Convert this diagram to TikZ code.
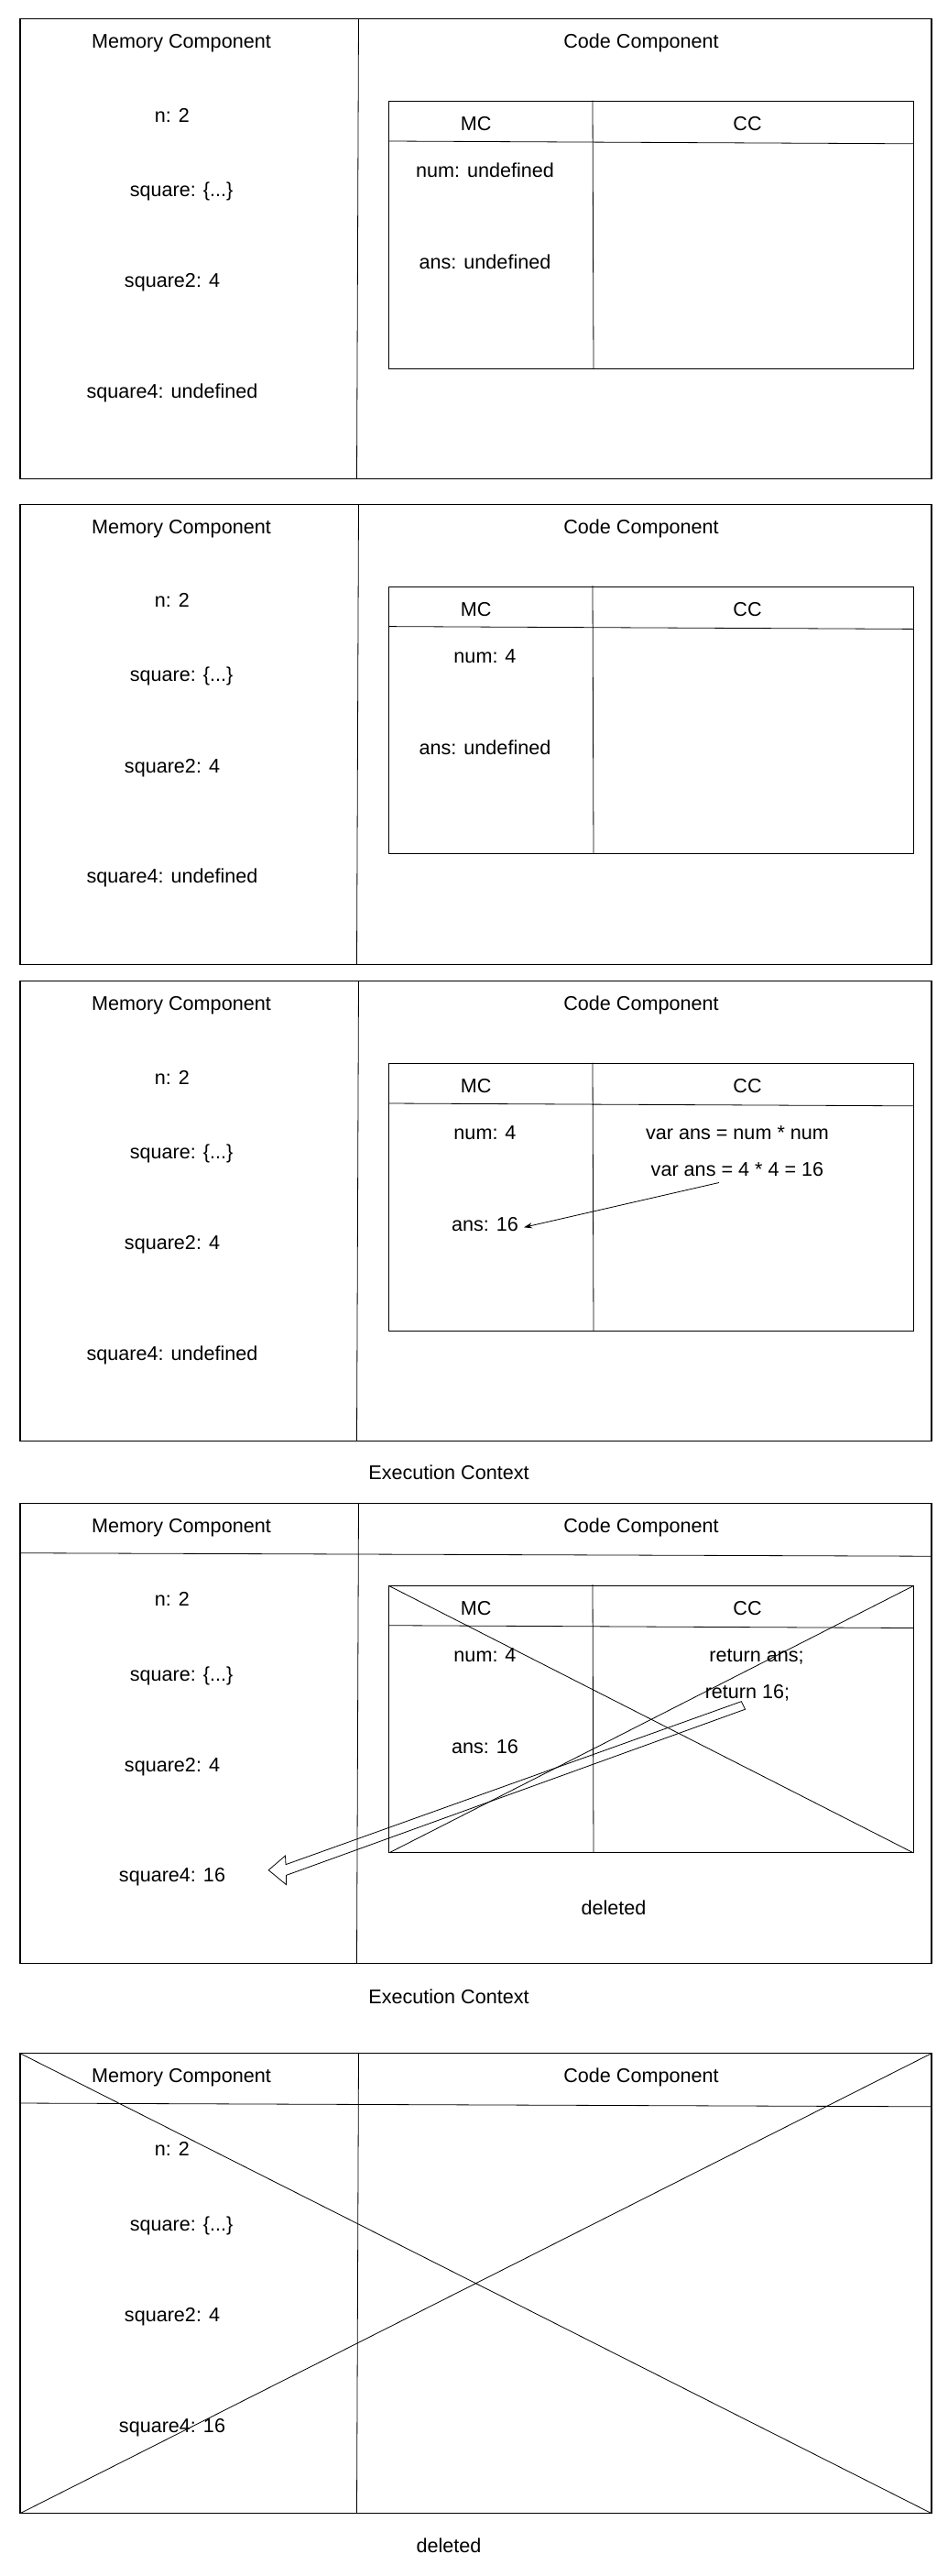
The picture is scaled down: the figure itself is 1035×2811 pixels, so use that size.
\documentclass[tikz,border=0pt]{standalone}
\usepackage{fontspec}
\setmainfont{Liberation Sans}
\usetikzlibrary{arrows.meta}
\tikzset{
  lbl/.style={font=\fontsize{21.6}{26}\selectfont, inner sep=0pt, text height=15.5pt, text depth=0pt, anchor=center},
  frame/.style={draw=black, line width=1.1pt},
  thinline/.style={draw=black, line width=0.8pt},
}
% outer frame with memory component column
\newcommand\ecframe[6]{% prefix, y-offset, n, square, square2, square4
  \begin{scope}[shift={(0,#2)}]
    \draw[frame] (22,20.8) rectangle (1017,522.7);
    \draw[thinline] (391.5,20.8) -- (389.5,522.7);
    \node[lbl] (#1mem) at (198,45) {Memory Component};
    \node[lbl] (#1code) at (700,45) {Code Component};
    \node[lbl] (#1n) at (188,125.3) {#3};
    \node[lbl] (#1sq) at (198,206.6) {#4};
    \node[lbl] (#1sqb) at (188,306) {#5};
    \node[lbl] (#1sqd) at (188,426.4) {#6};
  \end{scope}}
% inner table
\newcommand\ectable[4]{% prefix, y-offset, num text, ans text
  \begin{scope}[shift={(0,#2)}]
    \draw[frame] (424.7,110.8) rectangle (997.3,402.2);
    \draw[thinline] (424.7,154) -- (997.3,156.8);
    \draw[thinline] (647,109.5) -- (648,402.2);
    \node[lbl] (#1mc) at (519.6,135) {MC};
    \node[lbl] (#1cc) at (816,135) {CC};
    \node[lbl] (#1num) at (529.5,186) {#3};
    \node[lbl] (#1ans) at (529.5,286) {#4};
  \end{scope}}
\begin{document}
\begin{tikzpicture}[x=1pt,y=-1pt]
\useasboundingbox[fill=white] (0,0) rectangle (1035,2811);

% ---- box 1
\ecframe{a}{0}{n: 2}{square: \{...\}}{square2: 4}{square4: undefined}
\ectable{a}{0}{num: undefined}{ans: undefined}

% ---- box 2
\ecframe{b}{529.6}{n: 2}{square: \{...\}}{square2: 4}{square4: undefined}
\ectable{b}{529.6}{num: 4}{ans: undefined}

% ---- box 3
\ecframe{c}{1050}{n: 2}{square: \{...\}}{square2: 4}{square4: undefined}
\ectable{c}{1050}{num: 4}{ans: 16}
\node[lbl] (cvar1) at (805,1236) {var ans = num * num};
\node[lbl] (cvar2) at (805,1275.4) {var ans = 4 * 4 = 16};
\coordinate (cstart) at (785,1290.5);
\coordinate (cend) at (572,1339.3);
\draw[thinline, -{Stealth[length=9pt,width=6pt]}] (cstart) -- (cend);
\node[lbl] (ctitle) at (490,1607) {Execution Context};

% ---- box 4
\ecframe{d}{1619.7}{n: 2}{square: \{...\}}{square2: 4}{square4: 16}
\draw[thinline] (22,1694.7) -- (1017,1698.2);
\ectable{d}{1619.7}{num: 4}{ans: 16}
\node[lbl] (dret1) at (826,1806) {return ans;};
\node[lbl] (dret2) at (816,1846) {return 16;};
\draw[thinline] (424.7,1730.5) -- (997.3,2021.9);
\draw[thinline] (997.3,1730.5) -- (424.7,2021.9);
\draw[thinline, line join=miter] (293.2,2040.7) -- (311.5,2025) -- (312,2034.6) -- (809.3,1856.7)
  -- (813.6,1865.2) -- (312.6,2046.3) -- (312.4,2056.5) -- cycle;
\node[lbl] (ddel) at (670,2082) {deleted};
\node[lbl] (dtitle) at (490,2178.5) {Execution Context};

% ---- box 5
\ecframe{e}{2219.9}{n: 2}{square: \{...\}}{square2: 4}{square4: 16}
\draw[thinline] (22,2295) -- (1017,2298.8);
\draw[thinline] (22,2240.7) -- (1017,2742.6);
\draw[thinline] (1017,2240.7) -- (22,2742.6);
\node[lbl] (edel) at (490,2778) {deleted};
\end{tikzpicture}
\end{document}
